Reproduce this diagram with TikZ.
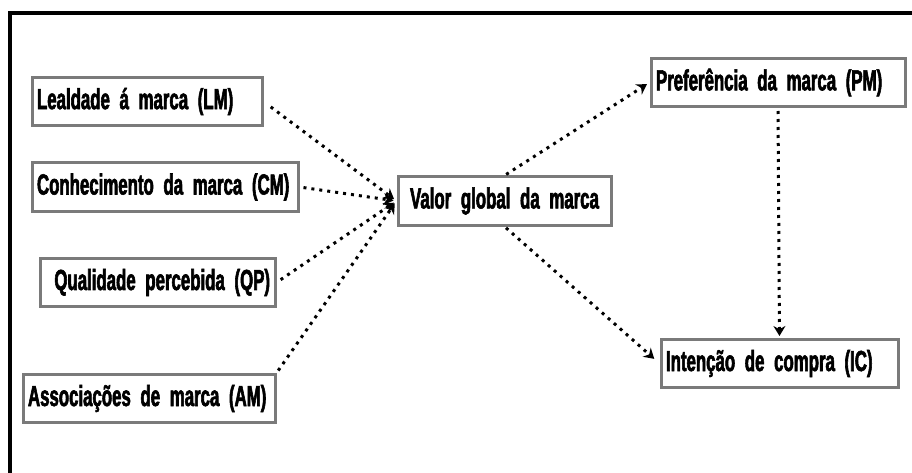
\documentclass[tikz,border=0pt]{standalone}
\usepackage{fontspec}
\usepackage{tikz}
\usetikzlibrary{arrows.meta,positioning}
\newfontfamily\boxfont{Liberation Sans}[UprightFont={* Bold},FakeStretch=0.58,FakeBold=2]
\definecolor{boxline}{HTML}{7A7A7A}
\tikzset{
  card/.style={draw=boxline,line width=3pt,fill=white,minimum height=48pt,
    inner xsep=5pt,align=left,font=\boxfont\fontsize{29}{32}\selectfont},
  link/.style={line width=3pt,dash pattern=on 3pt off 5pt,
    -{Stealth[length=10pt,width=12pt]}}
}

\begin{document}
\begin{tikzpicture}[x=1pt,y=-1pt]
 \useasboundingbox (0,0) rectangle (912,473);
 \draw[line width=4pt] (10,473) -- (10,13) -- (912,13);
 % determinants
 \node[card,text width=220pt] (lm) at (147,101.5) {Lealdade á marca (LM)};
 \node[card,text width=256pt] (cm) at (165,187) {Conhecimento da marca (CM)};
 \node[card,text width=225pt,align=right] (qp) at (157.5,282.5) {Qualidade percebida (QP)};
 \node[card,text width=242pt] (am) at (149,398.5) {Associações de marca (AM)};
 % centre and outcomes
 \node[card,text width=203pt,align=center] (vg) at (504.5,201) {Valor global da marca};
 \node[card,text width=244pt] (pm) at (778,82.5) {Preferência da marca (PM)};
 \node[card,text width=227pt] (ic) at (779.5,363.5) {Intenção de compra (IC)};

 \draw[link,shorten <=9pt,shorten >=3pt] (lm.east) -- (vg.west);
 \draw[link,shorten <=4pt,shorten >=3pt] (cm.east) -- (vg.west);
 \draw[link,shorten <=5pt,shorten >=3pt] (qp.east) -- (vg.west);
 \draw[link,shorten <=3pt,shorten >=3pt] (am.north east) -- (vg.west);
 \draw[link,shorten <=2pt,shorten >=3pt] (vg.north) -- (pm.west);
 \draw[link,shorten <=2pt,shorten >=7pt] (vg.south) -- (ic.west);
 \draw[link,shorten <=3pt,shorten >=2pt] (pm.south) -- (ic.north);
\end{tikzpicture}
\end{document}
